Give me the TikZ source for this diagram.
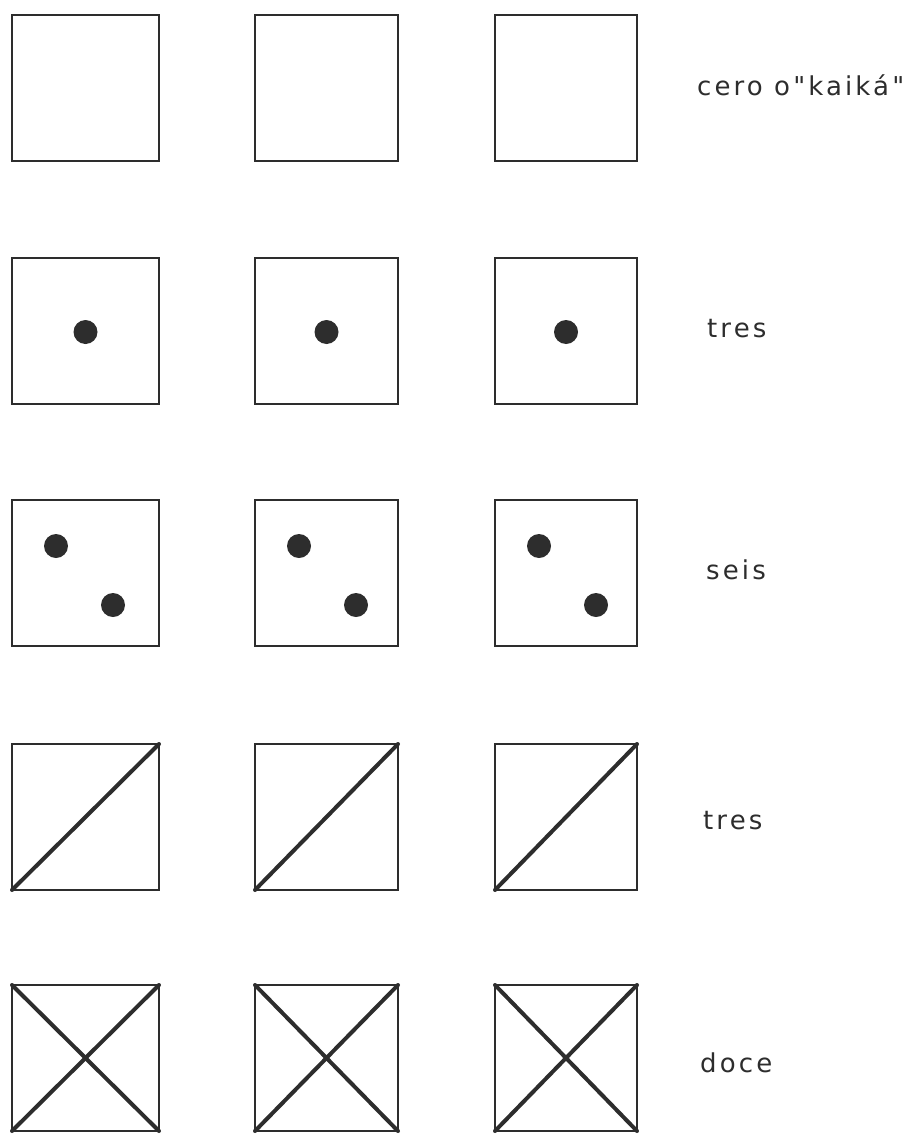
\documentclass[tikz,border=0pt]{standalone}
\usepackage{tikz}
\usepackage{xcolor}
\usepackage{fontspec}
\newfontfamily\labelfont{DejaVu Sans}[LetterSpace=12]
\definecolor{inkgray}{RGB}{45,45,45}

\begin{document}
\begin{tikzpicture}[x=1pt, y=-1pt,
    cell/.style={draw=inkgray, line width=2.2pt},
    stroke/.style={draw=inkgray, line width=4pt, line cap=round},
    pip/.style={fill=inkgray},
    countlabel/.style={anchor=base west, inner sep=0pt, text=inkgray, font=\labelfont\fontsize{26}{31}\selectfont}]
    \useasboundingbox (0,0) rectangle (906,1137);

    % empty squares
    \foreach \x/\w in {12/147,255/143,495/142} \draw[cell] (\x,15) rectangle ++(\w,146);
    % one dot
    \foreach \x/\w in {12/147,255/143,495/142} {
        \draw[cell] (\x,258) rectangle ++(\w,146);
        \fill[pip] (\x+\w/2,332) circle (12);
    }
    % two dots
    \foreach \x/\w in {12/147,255/143,495/142} {
        \draw[cell] (\x,500) rectangle ++(\w,146);
        \fill[pip] (\x+44,546) circle (12);
        \fill[pip] (\x+101,605) circle (12);
    }
    % one diagonal
    \foreach \x/\w in {12/147,255/143,495/142} {
        \draw[cell] (\x,744) rectangle ++(\w,146);
        \draw[stroke] (\x,890) -- (\x+\w,744);
    }
    % two diagonals
    \foreach \x/\w in {12/147,255/143,495/142} {
        \draw[cell] (\x,985) rectangle ++(\w,146);
        \draw[stroke] (\x,1131) -- (\x+\w,985);
        \draw[stroke] (\x,985) -- (\x+\w,1131);
    }

    \node[countlabel] (zero) at (697,96) {cero o"kaiká"};
    \node[countlabel] (three) at (707,337) {tres};
    \node[countlabel] (six) at (706,579) {seis};
    \node[countlabel] (threebis) at (703,829) {tres};
    \node[countlabel] (twelve) at (700,1072) {doce};
\end{tikzpicture}
\end{document}
